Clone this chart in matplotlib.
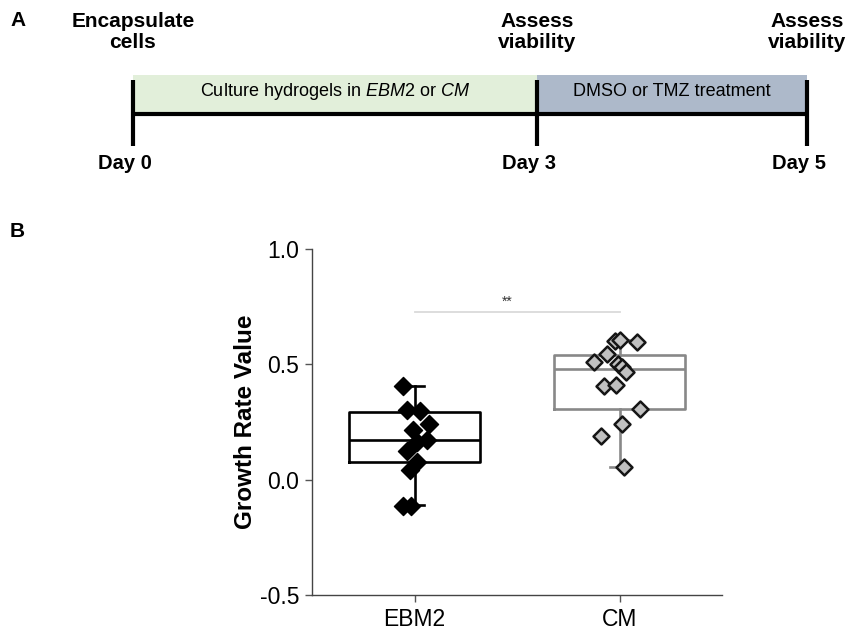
import matplotlib
matplotlib.use('Agg')
import matplotlib.pyplot as plt

plt.rcParams['font.family'] = ['Liberation Sans', 'DejaVu Sans']
plt.rcParams['mathtext.fontset'] = 'custom'
plt.rcParams['mathtext.rm'] = 'Liberation Sans'
plt.rcParams['mathtext.it'] = 'Liberation Sans:italic'

# ---- panel A: timeline ----
days = [0, 3, 5]
day_labels = ['Day 0', 'Day 3', 'Day 5']
event_labels = ['Encapsulate\ncells', 'Assess\nviability', 'Assess\nviability']
phase_start = [0, 3]
phase_end = [3, 5]
phase_labels = [r'Culture hydrogels in $\mathit{EBM2}$ or $\mathit{CM}$', 'DMSO or TMZ treatment']
phase_colors = ['#e2efda', '#adb9ca']

# ---- panel B: growth rate ----
groups = ['EBM2', 'CM']
ebm2_vals = [0.406, 0.300, 0.296, 0.243, 0.214, 0.170, 0.163, 0.124, 0.076, 0.043, -0.116, -0.116]
cm_vals = [0.601, 0.607, 0.597, 0.546, 0.510, 0.500, 0.488, 0.467, 0.405, 0.409, 0.308, 0.240, 0.188, 0.055]
# box statistics (min, q1, median, q3, max)
box_lo = [-0.11, 0.055]
box_q1 = [0.076, 0.305]
box_med = [0.172, 0.478]
box_q3 = [0.292, 0.542]
box_hi = [0.406, 0.607]
sig_y = 0.728

# horizontal scatter of the points inside each group
ebm2_jit = [-0.057, -0.036, 0.029, 0.070, -0.006, 0.062, 0.010, -0.036, 0.013, -0.024, -0.055, -0.016]
cm_jit = [-0.024, 0.0, 0.086, -0.060, -0.122, -0.008, 0.013, 0.034, -0.077, -0.015, 0.098, 0.013, -0.088, 0.021]

fig = plt.figure(figsize=(8.48, 6.30), dpi=100)

# panel A (y in pixel rows from the top of the figure)
ax_a = fig.add_axes([133 / 848, 450 / 630, (806.7 - 133) / 848, 180 / 630])
ax_a.set_xlim(0, 5)
ax_a.set_ylim(180, 0)
ax_a.axis('off')

for s, e, lab, c in zip(phase_start, phase_end, phase_labels, phase_colors):
    ax_a.barh(94.5, e - s, left=s, height=39, color=c, edgecolor='none', zorder=1)
    ax_a.text((s + e) / 2, 91, lab, ha='center', va='center', fontsize=13, zorder=3)

ax_a.hlines(114, days[0], days[-1], color='black', lw=3, zorder=2, clip_on=False)
ax_a.vlines(days, 80, 146, color='black', lw=3, zorder=2, clip_on=False)

for d, dl, el in zip(days, day_labels, event_labels):
    ax_a.text(d - 0.06, 169, dl, ha='center', va='baseline', fontsize=14.5,
              fontweight='bold', clip_on=False)
    ax_a.text(d, 32, el, ha='center', va='center', fontsize=15, fontweight='bold',
              linespacing=1.15, clip_on=False)

fig.text(10 / 848, 1 - 26 / 630, 'A', fontsize=15, fontweight='bold', va='baseline')
fig.text(10 / 848, 1 - 237 / 630, 'B', fontsize=15, fontweight='bold', va='baseline')

# panel B
ax = fig.add_axes([312 / 848, 35 / 630, 410 / 848, 346 / 630])

stats = []
for i, g in enumerate(groups):
    stats.append(dict(label=g, whislo=box_lo[i], q1=box_q1[i], med=box_med[i],
                      q3=box_q3[i], whishi=box_hi[i], fliers=[]))

box_cols = ['black', '#888888']
pos = [0, 1]
for i in range(2):
    c = box_cols[i]
    ax.bxp([stats[i]], positions=[pos[i]], widths=0.64, capwidths=0.09,
           showfliers=False, patch_artist=False,
           boxprops=dict(color=c, lw=1.9),
           medianprops=dict(color=c, lw=1.9),
           whiskerprops=dict(color=c, lw=1.9),
           capprops=dict(color=c, lw=1.9))

ax.scatter([pos[0] + j for j in ebm2_jit], ebm2_vals, marker='D', s=85,
           facecolor='black', edgecolor='black', lw=1, zorder=3)
ax.scatter([pos[1] + j for j in cm_jit], cm_vals, marker='D', s=66,
           facecolor='#c0c0c0', edgecolor='#151515', lw=1.8, zorder=3)

ax.plot([pos[0], pos[1]], [sig_y, sig_y], color='#dadada', lw=1.3)
ax.text(0.45, sig_y + 0.045, '**', ha='center', va='center', fontsize=10, color='#333333')

ax.set_xlim(-0.5, 1.5)
ax.set_ylim(-0.5, 1.0)
ax.set_xticks(pos)
ax.set_xticklabels(groups)
ax.set_yticks([-0.5, 0.0, 0.5, 1.0])
ax.set_yticklabels(['-0.5', '0.0', '0.5', '1.0'])
ax.tick_params(axis='both', labelsize=16.5, color='#555555', length=5, width=1, pad=4)
ax.set_ylabel('Growth Rate Value', fontsize=17.5, fontweight='bold', labelpad=2)
for sp in ['top', 'right']:
    ax.spines[sp].set_visible(False)
for sp in ['left', 'bottom']:
    ax.spines[sp].set_color('#444444')
    ax.spines[sp].set_linewidth(1)

fig.savefig('out.png', dpi=100)
